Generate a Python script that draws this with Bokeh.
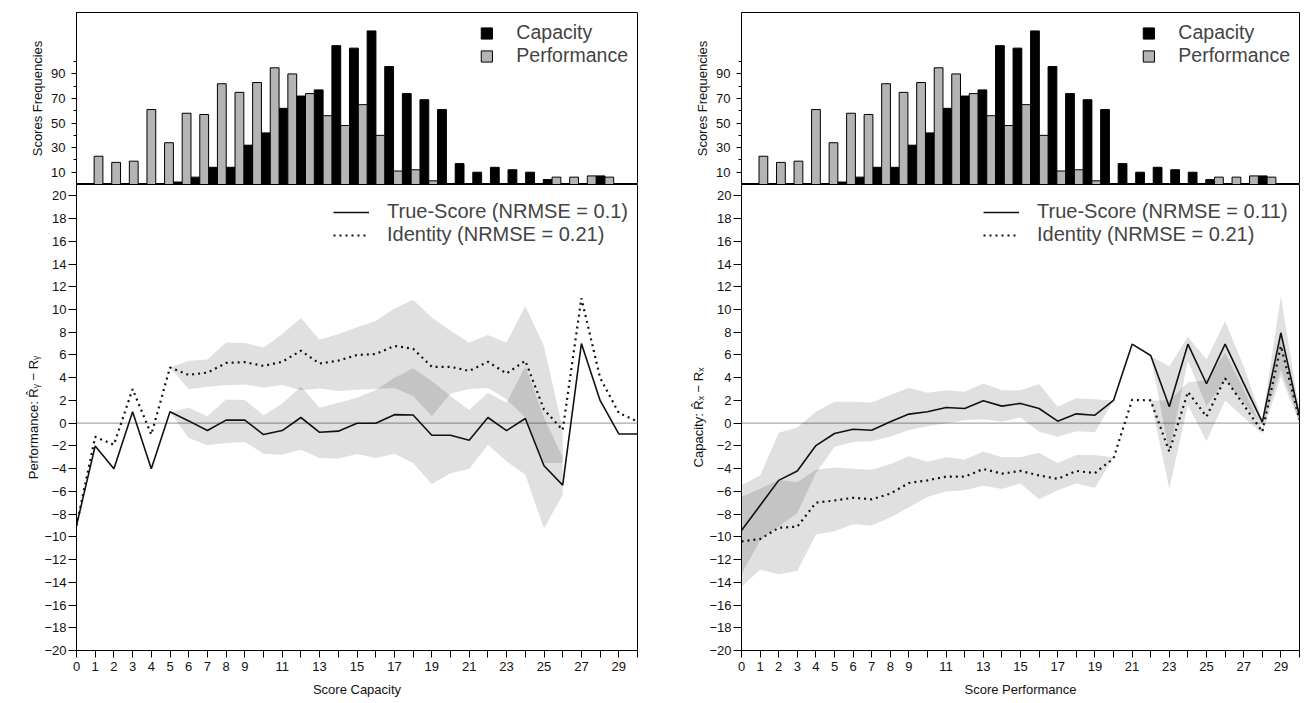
from bokeh.plotting import figure
from bokeh.models import Range1d, FixedTicker, Legend, LegendItem, Span
from bokeh.layouts import row, column
from bokeh.embed import file_html
from bokeh.resources import INLINE

FONT = "Liberation Sans"

# ---------------- data ----------------
scores = list(range(31))

capacity_freq = [0, 0, 0, 0, 0, 2, 6, 14, 14, 32, 42, 62, 72, 77, 113, 111, 125, 96,
                 74, 69, 61, 17, 10, 14, 12, 10, 4, 0, 0, 7, 0]
performance_freq = [0, 23, 18, 19, 61, 34, 58, 57, 82, 75, 83, 95, 90, 74, 56, 48, 65, 40,
                    11, 12, 3, 0, 0, 0, 0, 0, 0, 6, 6, 7, 6]

# left panel: x = Score Capacity, y = Performance residual
left_true = [-9, -2, -4, 1, -4, 1, 0.2, -0.65, 0.27, 0.27, -1.0, -0.65, 0.5, -0.8, -0.7, 0, 0,
             0.75, 0.72, -1.06, -1.06, -1.5, 0.5, -0.65, 0.41, -3.75, -5.45, 7.0, 2.0, -0.95, -0.95]
left_ident = [-9, -1.2, -1.9, 3, -1, 4.9, 4.25, 4.45, 5.3, 5.37, 5.04, 5.4, 6.37, 5.25, 5.5, 6.0,
              6.08, 6.8, 6.55, 4.96, 4.96, 4.6, 5.4, 4.37, 5.49, 1.2, -0.6, 11.0, 4.0, 0.9, 0.15]
left_true_lo = [None] * 5 + [0.97, -1.3, -1.95, -1.74, -1.65, -2.68, -2.77, -2.33, -3.07, -3.13,
                             -2.71, -3.07, -2.7, -3.5, -5.37, -4.4, -4.04, -1.89, -3.36, -4.54,
                             -9.26, -6.3] + [None] * 4
left_true_hi = [None] * 5 + [0.97, 1.36, 0.62, 2.09, 2.03, 0.7, 1.74, 3.22, 1.36, 1.8, 2.24, 2.92,
                             4.0, 4.84, 3.72, 2.4, 1.15, 2.68, 1.8, 5.0, 0.5, -3.0] + [None] * 4
left_ident_lo = [None] * 5 + [4.9, 2.98, 3.2, 3.33, 3.4, 3.12, 3.36, 2.9, 3.06, 2.83, 2.95, 3.0,
                              3.1, 2.39, 0.62, 2.6, 3.0, 3.1, 2.09, 0.5, -3.5, -3.5] + [None] * 4
left_ident_hi = [None] * 5 + [4.9, 5.5, 5.6, 7.1, 7.05, 6.66, 7.85, 9.26, 7.35, 7.85, 8.43, 9.0,
                              10.1, 10.86, 9.3, 8.14, 7.1, 7.76, 7.1, 10.3, 6.8, -0.5] + [None] * 4

# right panel: x = Score Performance, y = Capacity residual
right_true = [-9.44, -7.24, -5.03, -4.2, -1.97, -0.91, -0.53, -0.62, 0.12, 0.8, 1.0, 1.38, 1.29,
              1.97, 1.5, 1.74, 1.29, 0.18, 0.82, 0.7, 2.0, 6.95, 5.95, 1.45, 6.95, 3.47, 6.95,
              3.5, 0.1, 7.95, 0.6]
right_ident = [-10.4, -10.2, -9.2, -9.1, -7.0, -6.8, -6.56, -6.7, -6.2, -5.26, -5.03, -4.7, -4.7,
               -4.03, -4.44, -4.2, -4.6, -4.9, -4.2, -4.4, -3.1, 2.05, 2.0, -2.5, 2.75, 0.58,
               3.95, 1.6, -0.75, 6.8, 0.3]
right_true_lo = [-13.3, -10.3, -9.1, -7.9, -4.4, -2.1, -1.65, -1.6, -1.2, -0.6, -0.26, 0.0, 0.26,
                 0.35, 0.12, 0.5, -0.76, -1.2, -0.7, -0.8, 2.0, None, 5.9, -2.6, 5.5, 1.5, 3.8,
                 1.8, -0.2, 4.7, 0.2]
right_true_hi = [-5.47, -4.6, -0.85, -0.38, 1.0, 1.88, 1.88, 1.82, 2.47, 3.12, 2.68, 2.9, 2.76,
                 3.5, 2.9, 2.9, 3.44, 1.44, 2.2, 2.1, 2.0, None, 5.9, 5.0, 7.6, 5.6, 9.0, 5.0,
                 0.3, 11.2, 1.0]
right_ident_lo = [-14.4, -12.9, -13.3, -13.0, -9.8, -9.5, -8.9, -9.0, -8.3, -7.4, -6.5, -6.0,
                  -5.9, -5.5, -5.8, -5.3, -6.7, -5.9, -5.3, -5.7, -3.0, None, 2.0, -5.8, 1.6,
                  -1.6, 2.0, 0.5, -0.9, 4.1, 0.0]
right_ident_hi = [-6.5, -5.76, -5.0, -5.2, -4.1, -3.9, -4.0, -4.1, -3.6, -2.9, -3.4, -3.0, -3.2,
                  -2.5, -3.0, -3.0, -2.6, -3.5, -2.8, -2.8, -3.0, None, 2.0, 2.0, 3.6, 3.8, 6.2,
                  3.0, -0.5, 8.2, 0.6]

x_labeled_ticks = [0, 1, 2, 3, 4, 5, 6, 7, 8, 9, 11, 13, 15, 17, 19, 21, 23, 25, 27, 29]
x_unlabeled_ticks = [10, 12, 14, 16, 18, 20, 22, 24, 26, 28, 30]
y_ticks = list(range(-20, 21, 2))
freq_ticks = [10, 30, 50, 70, 90]
freq_minor_ticks = [20, 40, 60, 80, 100]


# ---------------- helpers ----------------
def style_axis(ax):
    ax.axis_line_color = "black"
    ax.major_tick_line_color = "black"
    ax.minor_tick_line_color = "black"
    ax.major_tick_in = 0
    ax.minor_tick_in = 0
    ax.major_label_text_font = FONT
    ax.major_label_text_font_size = "13px"
    ax.major_label_text_color = "#111111"
    ax.axis_label_text_font = FONT
    ax.axis_label_text_font_size = "13px"
    ax.axis_label_text_font_style = "normal"
    ax.axis_label_text_color = "#111111"


def make_hist(width, border_left, border_right):
    p = figure(width=width, height=184, x_range=Range1d(0, 31.85), y_range=Range1d(0, 140),
               output_backend="svg", toolbar_location=None, x_axis_location=None,
               min_border_left=border_left, min_border_right=border_right,
               min_border_top=12, min_border_bottom=0)
    p.xgrid.grid_line_color = None
    p.ygrid.grid_line_color = None
    p.outline_line_color = "black"
    p.background_fill_color = "white"
    perf_x = [s + 0.25 for s in scores]
    cap_x = [s + 0.75 for s in scores]
    r_cap = p.vbar(x=cap_x, top=capacity_freq, width=0.5, fill_color="black", line_color="black",
                   line_width=1)
    r_perf = p.vbar(x=perf_x, top=performance_freq, width=0.5, fill_color="#b4b4b4",
                    line_color="black", line_width=1)
    ax = p.yaxis[0]
    style_axis(ax)
    ax.ticker = FixedTicker(ticks=freq_ticks, minor_ticks=freq_minor_ticks)
    ax.major_tick_out = 5
    ax.minor_tick_out = 3
    ax.major_label_standoff = 6
    ax.axis_label = "Scores Frequencies"
    ax.axis_label_standoff = 3
    leg = Legend(items=[LegendItem(label="Capacity", renderers=[r_cap]),
                        LegendItem(label="Performance", renderers=[r_perf])],
                 location="top_right", margin=9, padding=4, spacing=0,
                 glyph_width=14, glyph_height=14, label_height=20, label_standoff=23,
                 label_text_font=FONT, label_text_font_size="19.5px",
                 border_line_color=None, background_fill_alpha=0)
    p.add_layout(leg)
    return p


def band_segments(lo, hi):
    segs, cur = [], []
    for x, a, b in zip(scores, lo, hi):
        if a is None or b is None:
            if cur:
                segs.append(cur)
            cur = []
        else:
            cur.append((x, a, b))
    if cur:
        segs.append(cur)
    return segs


def make_line(width, border_left, border_right, true_vals, ident_vals, t_lo, t_hi, i_lo, i_hi,
              xlabel, ylabel, lab_true, lab_ident, legend_x):
    p = figure(width=width, height=516, x_range=Range1d(0, 30), y_range=Range1d(-20, 21),
               output_backend="svg", toolbar_location=None,
               min_border_left=border_left, min_border_right=border_right,
               min_border_top=0, min_border_bottom=50)
    p.xgrid.grid_line_color = None
    p.ygrid.grid_line_color = None
    p.outline_line_color = "black"
    for lo, hi in ((i_lo, i_hi), (t_lo, t_hi)):
        for seg in band_segments(lo, hi):
            p.varea(x=[s[0] for s in seg], y1=[s[1] for s in seg], y2=[s[2] for s in seg],
                    fill_color="black", fill_alpha=0.12)
    p.add_layout(Span(location=0, dimension="width", line_color="#a8a8a8", line_width=1.2,
                      level="underlay"))
    r_true = p.line(scores, true_vals, line_color="#111111", line_width=1.6)
    r_ident = p.line(scores, ident_vals, line_color="#111111", line_width=2.2, line_dash="2 4")

    xa = p.xaxis[0]
    style_axis(xa)
    xa.ticker = FixedTicker(ticks=x_labeled_ticks, minor_ticks=x_unlabeled_ticks)
    xa.major_tick_out = 7
    xa.minor_tick_out = 7
    xa.major_label_standoff = 4
    xa.axis_label = xlabel
    xa.axis_label_standoff = 8

    ya = p.yaxis[0]
    style_axis(ya)
    ya.ticker = FixedTicker(ticks=y_ticks, minor_ticks=[])
    ya.major_tick_out = 8
    ya.major_label_standoff = 2
    ya.axis_label = ylabel
    ya.axis_label_standoff = 0

    leg = Legend(items=[LegendItem(label=lab_true, renderers=[r_true]),
                        LegendItem(label=lab_ident, renderers=[r_ident])],
                 location=(legend_x, 404), margin=0, padding=0, spacing=0,
                 glyph_width=36, glyph_height=20, label_height=20, label_standoff=18,
                 label_text_font=FONT, label_text_font_size="20px",
                 border_line_color=None, background_fill_alpha=0)
    p.add_layout(leg)
    return p


h_left = make_hist(673, 76, 36)
l_left = make_line(673, 76, 36, left_true, left_ident, left_true_lo, left_true_hi,
                   left_ident_lo, left_ident_hi, "Score Capacity",
                   "Performance: R\u0302\u1d67 \u2212 R\u1d67",
                   "True-Score (NRMSE = 0.1)", "Identity (NRMSE = 0.21)", 257)
h_right = make_hist(631, 68, 5)
l_right = make_line(631, 68, 5, right_true, right_ident, right_true_lo, right_true_hi,
                    right_ident_lo, right_ident_hi, "Score Performance",
                    "Capacity: R\u0302\u2093 \u2212 R\u2093",
                    "True-Score (NRMSE = 0.11)", "Identity (NRMSE = 0.21)", 242)

layout = row(column(h_left, l_left), column(h_right, l_right))

open("out.html", "w").write(file_html(layout, INLINE))
